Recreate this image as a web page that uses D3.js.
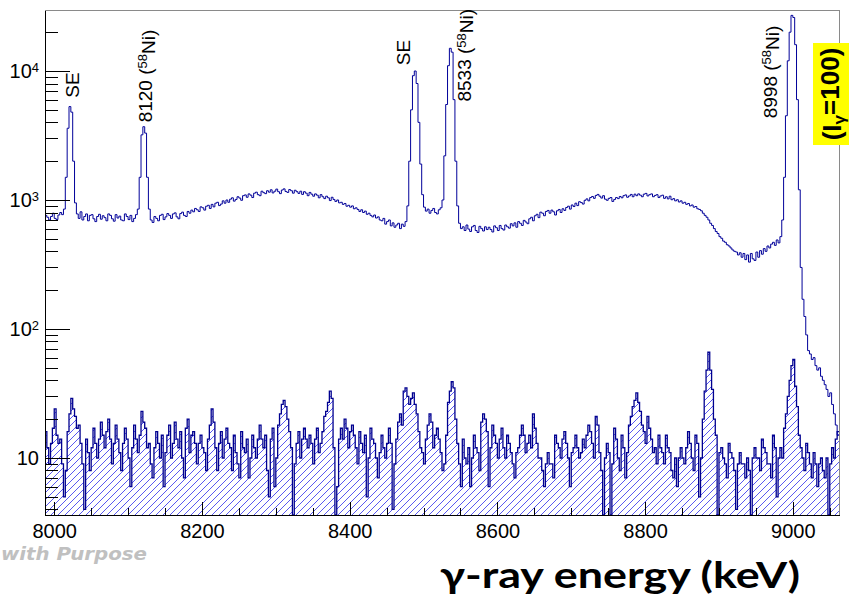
<!DOCTYPE html>
<meta charset="utf-8">
<style>
body {
  margin: 0;
  background: #fff;
}
svg {
  display: block;
  font-family: "Liberation Sans", Arial, sans-serif;
}
.axis path {
  display: none;
}
.axis line {
  stroke: #000;
  shape-rendering: crispEdges;
}
.axis text {
  font-family: "Liberation Sans", Arial, sans-serif;
  font-size: 20px;
  fill: #000;
}
.peak {
  font-size: 19px;
  fill: #000;
}
</style>
<body>
<script src="https://d3js.org/d3.v7.min.js"></script>
<script>

// bin centres (keV), 2.5 keV bins from 7987.5 to 9062.5
var energies = d3.range(7988.75, 9062.5, 2.5);
var binWidth = 2.5;

// singles spectrum, counts per bin (two lines = 100 keV)
var upperCounts = [
  760, 735, 700, 745, 790, 720, 705, 765, 800, 770, 850, 1500, 3600, 5300, 4800, 2000, 950, 780, 720, 810,
  700, 745, 780, 690, 760, 770, 715, 680, 745, 775, 710, 755, 730, 690, 780, 760, 715, 685, 770, 725,
  750, 700, 690, 780, 745, 705, 760, 680, 720, 770, 850, 1500, 3200, 3700, 3300, 1500, 850, 700, 670, 745,
  720, 690, 760, 775, 705, 740, 785, 760, 720, 780, 795, 740, 715, 785, 805, 760, 745, 815, 790, 835,
  810, 860, 840, 815, 885, 870, 835, 895, 910, 860, 925, 885, 945, 960, 905, 930, 985, 945, 1000, 960,
  1015, 1040, 980, 1010, 1060, 1035, 995, 1080, 1095, 1050, 1115, 1090, 1045, 1130, 1150, 1100, 1080, 1170, 1140, 1120,
  1180, 1150, 1200, 1135, 1170, 1215, 1160, 1120, 1195, 1220, 1165, 1145, 1205, 1180, 1130, 1190, 1160, 1125, 1170, 1105,
  1160, 1130, 1080, 1145, 1110, 1070, 1115, 1090, 1040, 1100, 1060, 1025, 1070, 1040, 990, 1050, 1010, 975, 1000, 950,
  960, 925, 940, 895, 910, 880, 900, 855, 870, 845, 815, 840, 800, 820, 775, 790, 760, 740, 765, 725,
  740, 700, 690, 720, 650, 680, 700, 630, 665, 615, 640, 660, 600, 650, 625, 680, 900, 2000, 5000, 9200,
  10000, 8000, 4000, 1900, 1100, 880, 820, 850, 790, 830, 860, 800, 780, 840, 870, 1000, 2200, 5500, 11000, 15000,
  14000, 6000, 2000, 900, 660, 600, 620, 580, 640, 595, 570, 620, 635, 580, 560, 625, 600, 575, 620, 590,
  615, 590, 565, 630, 610, 580, 635, 600, 585, 640, 620, 605, 655, 630, 665, 615, 680, 660, 635, 695,
  675, 655, 715, 735, 690, 755, 775, 730, 805, 790, 755, 815, 830, 790, 835, 810, 765, 825, 845, 800,
  855, 830, 875, 895, 850, 915, 890, 945, 905, 970, 955, 930, 995, 1020, 985, 1045, 1065, 1030, 1085, 1105,
  1070, 1035, 1080, 1015, 995, 1030, 1045, 975, 1010, 1045, 1025, 1065, 1040, 1080, 1095, 1050, 1075, 1105, 1060, 1110,
  1080, 1115, 1090, 1060, 1110, 1125, 1075, 1100, 1115, 1060, 1085, 1100, 1045, 1075, 1090, 1030, 1060, 1020, 1070, 1005,
  1025, 985, 1005, 965, 985, 945, 960, 925, 940, 900, 915, 880, 890, 855, 845, 825, 790, 760, 735, 700,
  660, 635, 600, 570, 550, 520, 505, 480, 470, 450, 440, 425, 410, 400, 395, 375, 390, 360, 385, 345,
  375, 330, 385, 350, 340, 395, 360, 405, 380, 420, 400, 440, 425, 455, 470, 445, 490, 465, 520, 700,
  1500, 4500, 12000, 20000, 27000, 26000, 16000, 6000, 1200, 300, 170, 125, 90, 68, 64, 58, 60, 52, 48, 50,
  43, 40, 37, 34, 30, 32, 26, 22, 18, 15
];

// gated spectrum (hatched), counts per bin
var lowerCounts = [
  16, 12, 9, 13, 17, 24, 15, 13, 14, 9, 5, 8, 16, 22, 29, 24, 21, 17, 18, 13,
  9, 4, 14, 11, 8, 12, 17, 13, 10, 14, 19, 15, 12, 16, 20, 14, 9, 13, 18, 14,
  11, 8, 13, 17, 14, 10, 6, 12, 18, 14, 11, 15, 23, 19, 17, 12, 13, 9, 7, 12,
  16, 13, 10, 15, 6, 11, 15, 18, 10, 13, 19, 14, 12, 16, 10, 7, 17, 20, 11, 15,
  16, 13, 9, 13, 15, 12, 11, 8, 14, 18, 24, 19, 12, 8, 13, 16, 10, 14, 17, 13,
  12, 8, 15, 11, 9, 7, 16, 12, 11, 14, 7, 10, 15, 12, 10, 14, 18, 14, 12, 15,
  8, 5, 14, 17, 6, 10, 18, 22, 26, 28, 25, 20, 16, 12, 0, 9, 13, 16, 10, 14,
  17, 14, 12, 15, 13, 9, 14, 17, 11, 13, 16, 21, 23, 27, 33, 29, 12, 0, 6, 14,
  17, 14, 20, 17, 12, 16, 18, 15, 12, 9, 16, 13, 11, 15, 5, 10, 17, 14, 13, 10,
  7, 11, 15, 12, 10, 13, 17, 13, 4, 9, 14, 19, 22, 18, 33, 35, 30, 26, 29, 32,
  26, 22, 16, 12, 11, 9, 14, 18, 22, 19, 12, 15, 17, 14, 11, 8, 9, 15, 27, 33,
  39, 35, 20, 13, 9, 6, 14, 10, 9, 12, 6, 10, 15, 12, 11, 8, 19, 22, 20, 16,
  6, 12, 18, 15, 13, 10, 14, 17, 12, 10, 15, 13, 11, 9, 7, 11, 12, 15, 18, 15,
  11, 13, 15, 12, 22, 17, 13, 10, 10, 8, 6, 9, 11, 9, 9, 7, 15, 13, 12, 10,
  14, 16, 13, 10, 6, 11, 12, 15, 12, 10, 11, 14, 12, 15, 18, 16, 13, 10, 21, 18,
  11, 8, 0, 10, 13, 11, 0, 9, 17, 14, 10, 8, 15, 12, 7, 11, 18, 21, 25, 28,
  32, 27, 23, 18, 16, 13, 21, 17, 14, 11, 12, 9, 15, 12, 11, 9, 15, 12, 11, 8,
  7, 10, 6, 10, 12, 10, 9, 12, 16, 13, 10, 8, 15, 13, 5, 10, 20, 33, 48, 66,
  48, 34, 20, 15, 0, 11, 12, 10, 9, 7, 13, 11, 10, 8, 4, 9, 11, 9, 9, 7,
  10, 8, 0, 10, 12, 10, 10, 8, 14, 12, 11, 9, 9, 7, 15, 12, 5, 10, 12, 10,
  17, 22, 30, 40, 52, 58, 36, 25, 15, 12, 10, 8, 13, 11, 9, 7, 11, 9, 6, 9,
  10, 8, 7, 10, 0, 9, 12, 10, 14, 16
];

var xTickValues = [8000, 8200, 8400, 8600, 8800, 9000];
var xMinorValues = d3.range(8050, 9061, 50).filter(function(d) { return d % 200 !== 0; });
var yTickValues = [10, 100, 1000, 10000];
var yMinorValues = [4, 5, 6, 7, 8, 9, 20, 30, 40, 50, 60, 70, 80, 90,
  200, 300, 400, 500, 600, 700, 800, 900, 2000, 3000, 4000, 5000, 6000, 7000, 8000, 9000, 20000];

// peak labels
var peakLabelEnergy = [8034, 8133, 8482, 8564, 8978];
var peakLabelCount  = [6200, 4000, 11100, 5800, 4300];
var peakLabelText   = ["SE", "8120", "SE", "8533", "8998"];
var peakLabelIso    = ["", "58", "", "58", "58"];

var margin = {top: 10, right: 10, bottom: 86, left: 45},
    width = 849 - margin.left - margin.right,
    height = 601 - margin.top - margin.bottom;

var x = d3.scaleLinear().domain([7987.5, 9062.5]).range([0, width]);
var y = d3.scaleLog().domain([3.614, 29717]).range([height, 0]);
var yFloor = y.domain()[0];

function yv(c) { return y(Math.max(c, yFloor)); }

function steps(counts) {
  var pts = counts.map(function(c, i) { return [energies[i] - binWidth / 2, c]; });
  pts.push([energies[energies.length - 1] + binWidth / 2, counts[counts.length - 1]]);
  return pts;
}

var svgRoot = d3.select("body").append("svg")
    .attr("width", 849)
    .attr("height", 601);

var defs = svgRoot.append("defs");

defs.append("clipPath").attr("id", "plotclip")
  .append("rect")
    .attr("width", width)
    .attr("height", height);

defs.append("pattern")
    .attr("id", "hatch")
    .attr("patternUnits", "userSpaceOnUse")
    .attr("width", 7)
    .attr("height", 7)
  .append("path")
    .attr("d", "M-1,1 L1,-1 M0,7 L7,0 M6,8 L8,6")
    .attr("stroke", "#4646ee")
    .attr("stroke-width", 0.9);

var svg = svgRoot.append("g")
    .attr("transform", "translate(" + margin.left + "," + margin.top + ")");

var plot = svg.append("g").attr("clip-path", "url(#plotclip)");

var line = d3.line()
    .x(function(d) { return x(d[0]); })
    .y(function(d) { return yv(d[1]); })
    .curve(d3.curveStepAfter);

var area = d3.area()
    .x(function(d) { return x(d[0]); })
    .y0(height)
    .y1(function(d) { return yv(d[1]); })
    .curve(d3.curveStepAfter);

// hatched gated spectrum
plot.append("path")
    .attr("d", area(steps(lowerCounts)))
    .attr("fill", "url(#hatch)");

plot.append("path")
    .attr("d", line(steps(lowerCounts)))
    .attr("fill", "none")
    .attr("stroke", "#00008f")
    .attr("stroke-width", 1.3);

// singles spectrum
plot.append("path")
    .attr("d", line(steps(upperCounts)))
    .attr("fill", "none")
    .attr("stroke", "#000099")
    .attr("stroke-width", 1);

// axes, ticks inside the frame like ROOT
svg.append("g")
    .attr("class", "x axis")
    .attr("transform", "translate(0," + height + ")")
    .call(d3.axisBottom(x).tickValues(xTickValues).tickSize(-13).tickSizeOuter(0)
      .tickPadding(9).tickFormat(d3.format("d")));

svg.append("g")
    .attr("class", "x axis minor")
    .attr("transform", "translate(0," + height + ")")
    .call(d3.axisBottom(x).tickValues(xMinorValues).tickSize(-7).tickSizeOuter(0).tickFormat(""));

var yAxisG = svg.append("g")
    .attr("class", "y axis")
    .call(d3.axisLeft(y).tickValues(yTickValues).tickSize(-25).tickSizeOuter(0)
      .tickPadding(6).tickFormat(function() { return "10"; }));

yAxisG.selectAll(".tick text").each(function(d) {
  var e = Math.round(Math.log10(d));
  if (e > 1) {
    d3.select(this).append("tspan")
        .attr("dy", "-0.45em")
        .style("font-size", "13px")
        .text(e);
  }
});

svg.append("g")
    .attr("class", "y axis minor")
    .call(d3.axisLeft(y).tickValues(yMinorValues).tickSize(-13).tickSizeOuter(0).tickFormat(""));

// frame
svg.append("rect")
    .attr("x", 0.5)
    .attr("y", 0.5)
    .attr("width", width)
    .attr("height", height)
    .attr("fill", "none")
    .attr("stroke", "#8a8a8a")
    .style("shape-rendering", "crispEdges");

svg.append("path")
    .attr("d", "M0.5,0.5 V" + (height + 0.5) + " H" + (width + 0.5))
    .attr("fill", "none")
    .attr("stroke", "#000")
    .attr("stroke-width", 1.2)
    .style("shape-rendering", "crispEdges");

// peak labels
peakLabelText.forEach(function(t, i) {
  var lab = svg.append("text")
      .attr("class", "peak")
      .attr("transform", "translate(" + x(peakLabelEnergy[i]) + "," + yv(peakLabelCount[i]) + ") rotate(-90)")
      .attr("text-anchor", "start")
      .text(t);
  if (peakLabelIso[i]) {
    lab.append("tspan").text(" (");
    lab.append("tspan").attr("dy", "-0.4em").style("font-size", "13px").text(peakLabelIso[i]);
    lab.append("tspan").attr("dy", "0.4em").text("Ni)");
  }
});

// intensity tag
svgRoot.append("rect")
    .attr("x", 813)
    .attr("y", 43)
    .attr("width", 40)
    .attr("height", 102)
    .attr("fill", "#ffff00");

var tag = svgRoot.append("text")
    .attr("transform", "translate(841,94) rotate(-90)")
    .attr("text-anchor", "middle")
    .style("font-size", "26px")
    .style("font-weight", "bold")
    .text("(I");
tag.append("tspan").attr("dy", "0.25em").style("font-size", "17px").text("γ");
tag.append("tspan").attr("dy", "-0.25em").text("=100)");

// axis title
svgRoot.append("text")
    .attr("x", 440)
    .attr("y", 588)
    .attr("textLength", 360)
    .attr("lengthAdjust", "spacingAndGlyphs")
    .style("font-family", "Lato, 'Open Sans', sans-serif")
    .style("font-weight", "bold")
    .style("font-size", "37px")
    .text("γ-ray energy (keV)");

// slide footer remnant
svgRoot.append("text")
    .attr("x", 1)
    .attr("y", 560)
    .attr("textLength", 146)
    .attr("lengthAdjust", "spacingAndGlyphs")
    .style("font-family", "'DejaVu Sans', Verdana, sans-serif")
    .style("font-weight", "bold")
    .style("font-style", "italic")
    .style("font-size", "18px")
    .style("fill", "#c0c0c0")
    .text("with Purpose");

</script>
</body>
</html>
